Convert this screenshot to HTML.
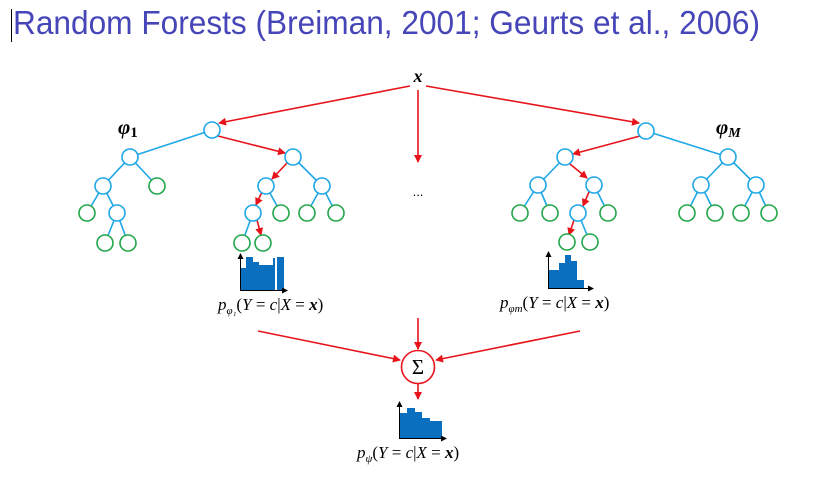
<!DOCTYPE html>
<html><head><meta charset="utf-8"><style>
html,body{margin:0;padding:0;background:#fff;width:823px;height:491px;overflow:hidden}
svg{display:block}
</style></head><body>
<svg width="823" height="491" viewBox="0 0 823 491" xmlns="http://www.w3.org/2000/svg">
<defs>
<marker id="ar" markerWidth="8" markerHeight="8" refX="7" refY="4" orient="auto" markerUnits="userSpaceOnUse">
<path d="M0,0 L8,4 L0,8 z" fill="#e8141b"/></marker>
<marker id="ak" markerWidth="6" markerHeight="6" refX="5" refY="3" orient="auto" markerUnits="userSpaceOnUse">
<path d="M0,0 L6,3 L0,6 z" fill="#000"/></marker>
</defs>
<line x1="11.5" y1="9" x2="11.5" y2="42" stroke="#000" stroke-width="1"/>
<text x="13" y="34" font-family="Liberation Sans, sans-serif" font-size="33" fill="#4646b8" textLength="747" lengthAdjust="spacingAndGlyphs">Random Forests (Breiman, 2001; Geurts et al., 2006)</text>

<text x="418" y="82" text-anchor="middle" font-family="Liberation Serif, serif" font-style="italic" font-weight="bold" font-size="18">x</text>
<g stroke="#e8141b" stroke-width="1.6" fill="none" marker-end="url(#ar)">
<line x1="410" y1="86" x2="219" y2="123"/>
<line x1="426" y1="86" x2="639" y2="123"/>
<line x1="418" y1="90" x2="418" y2="162"/>
</g>
<text x="418" y="196" text-anchor="middle" font-family="Liberation Sans, sans-serif" font-size="13">...</text>

<g stroke="#1ea7e6" stroke-width="1.6">
<line x1="212" y1="130" x2="130" y2="157"/>
<line x1="130" y1="157" x2="103" y2="186"/><line x1="130" y1="157" x2="157" y2="186"/>
<line x1="293" y1="157" x2="322" y2="186"/>
<line x1="103" y1="186" x2="87" y2="213"/><line x1="103" y1="186" x2="117" y2="213"/>
<line x1="117" y1="213" x2="105" y2="243"/><line x1="117" y1="213" x2="128" y2="243"/>
<line x1="266" y1="186" x2="281" y2="213"/>
<line x1="322" y1="186" x2="307" y2="213"/><line x1="322" y1="186" x2="336" y2="213"/>
<line x1="253" y1="213" x2="242" y2="243"/>
<line x1="646" y1="131" x2="728" y2="157"/>
<line x1="565" y1="157" x2="538" y2="185"/>
<line x1="728" y1="157" x2="701" y2="185"/><line x1="728" y1="157" x2="756" y2="185"/>
<line x1="538" y1="185" x2="520" y2="213"/><line x1="538" y1="185" x2="550" y2="213"/>
<line x1="594" y1="185" x2="608" y2="213"/>
<line x1="701" y1="185" x2="687" y2="213"/><line x1="701" y1="185" x2="715" y2="213"/>
<line x1="756" y1="185" x2="741" y2="213"/><line x1="756" y1="185" x2="769" y2="213"/>
<line x1="578" y1="213" x2="590" y2="242"/>
</g>
<g stroke="#e8141b" stroke-width="1.6" marker-end="url(#ar)">
<line x1="218" y1="136" x2="285" y2="153"/>
<line x1="287" y1="163" x2="272" y2="179"/>
<line x1="262" y1="192" x2="256" y2="205"/>
<line x1="257" y1="220" x2="261" y2="235"/>
<line x1="640" y1="136" x2="573" y2="154"/>
<line x1="570" y1="164" x2="587" y2="178"/>
<line x1="589" y1="192" x2="583" y2="206"/>
<line x1="574" y1="220" x2="569" y2="235"/>
</g>

<g fill="#fff" stroke="#1ea7e6" stroke-width="1.6">
<circle cx="212" cy="130" r="8"/><circle cx="130" cy="157" r="8"/><circle cx="293" cy="157" r="8"/>
<circle cx="103" cy="186" r="8"/><circle cx="266" cy="186" r="8"/><circle cx="322" cy="186" r="8"/>
<circle cx="117" cy="213" r="8"/><circle cx="253" cy="213" r="8"/>
<circle cx="646" cy="131" r="8"/><circle cx="565" cy="157" r="8"/><circle cx="728" cy="157" r="8"/>
<circle cx="538" cy="185" r="8"/><circle cx="594" cy="185" r="8"/><circle cx="701" cy="185" r="8"/><circle cx="756" cy="185" r="8"/>
<circle cx="578" cy="213" r="8"/>
</g>
<g fill="#fff" stroke="#22a64a" stroke-width="1.6">
<circle cx="157" cy="186" r="8"/><circle cx="87" cy="213" r="8"/>
<circle cx="105" cy="243" r="8"/><circle cx="128" cy="243" r="8"/>
<circle cx="281" cy="213" r="8"/><circle cx="307" cy="213" r="8"/><circle cx="336" cy="213" r="8"/>
<circle cx="242" cy="243" r="8"/><circle cx="263" cy="243" r="8"/>
<circle cx="520" cy="213" r="8"/><circle cx="550" cy="213" r="8"/><circle cx="608" cy="213" r="8"/>
<circle cx="687" cy="213" r="8"/><circle cx="715" cy="213" r="8"/><circle cx="741" cy="213" r="8"/><circle cx="769" cy="213" r="8"/>
<circle cx="567" cy="242" r="8"/><circle cx="590" cy="242" r="8"/>
</g>

<text x="118" y="134" font-family="Liberation Serif, serif" font-style="italic" font-weight="bold" font-size="21">φ<tspan font-style="normal" font-size="15" dy="3">1</tspan></text>
<text x="716" y="134" font-family="Liberation Serif, serif" font-style="italic" font-weight="bold" font-size="21">φ<tspan font-size="14" dy="3">M</tspan></text>

<g fill="#0b6fbf">
<rect x="241" y="268" width="5" height="22"/><rect x="246" y="257" width="7" height="33"/><rect x="253" y="262" width="6" height="28"/>
<rect x="259" y="265" width="7" height="25"/><rect x="266" y="265" width="7" height="25"/><rect x="273" y="258" width="2" height="32"/><rect x="277" y="257" width="7" height="33"/>
</g>
<g stroke="#000" stroke-width="1" fill="none">
<line x1="240.5" y1="291" x2="240.5" y2="254" marker-end="url(#ak)"/>
<line x1="240" y1="290.5" x2="287" y2="290.5" marker-end="url(#ak)"/>
</g>
<text x="218" y="310" font-family="Liberation Serif, serif" font-style="italic" font-size="17">p<tspan font-size="11" dy="4">φ₁</tspan><tspan dy="-4" font-style="normal">(</tspan>Y<tspan font-style="normal"> = </tspan>c<tspan font-style="normal">|</tspan>X<tspan font-style="normal"> = </tspan><tspan font-weight="bold">x</tspan><tspan font-style="normal">)</tspan></text>

<g fill="#0b6fbf">
<rect x="549" y="270" width="10" height="18"/><rect x="559" y="263" width="6" height="25"/><rect x="565" y="255" width="6" height="33"/>
<rect x="571" y="261" width="6" height="27"/><rect x="577" y="280" width="7" height="8"/>
</g>
<g stroke="#000" stroke-width="1" fill="none">
<line x1="548.5" y1="289" x2="548.5" y2="252" marker-end="url(#ak)"/>
<line x1="548" y1="288.5" x2="593" y2="288.5" marker-end="url(#ak)"/>
</g>
<text x="500" y="308" font-family="Liberation Serif, serif" font-style="italic" font-size="17">p<tspan font-size="11" dy="4">φm</tspan><tspan dy="-4" font-style="normal">(</tspan>Y<tspan font-style="normal"> = </tspan>c<tspan font-style="normal">|</tspan>X<tspan font-style="normal"> = </tspan><tspan font-weight="bold">x</tspan><tspan font-style="normal">)</tspan></text>

<g stroke="#e8141b" stroke-width="1.6" marker-end="url(#ar)">
<line x1="258" y1="331" x2="400" y2="360"/>
<line x1="580" y1="331" x2="436" y2="360"/>
<line x1="418" y1="318" x2="418" y2="349"/>
<line x1="418" y1="384" x2="418" y2="399"/>
</g>
<circle cx="418" cy="367" r="16.5" fill="#fff" stroke="#e8141b" stroke-width="1.6"/>
<text x="418" y="374" text-anchor="middle" font-family="Liberation Serif, serif" font-size="21">Σ</text>

<g fill="#0b6fbf">
<rect x="400" y="413" width="7" height="25"/><rect x="407" y="408" width="8" height="30"/><rect x="415" y="412" width="7" height="26"/>
<rect x="422" y="418" width="8" height="20"/><rect x="430" y="421" width="7" height="17"/><rect x="437" y="421" width="5" height="17"/>
</g>
<g stroke="#000" stroke-width="1" fill="none">
<line x1="399.5" y1="439" x2="399.5" y2="402" marker-end="url(#ak)"/>
<line x1="399" y1="438.5" x2="446" y2="438.5" marker-end="url(#ak)"/>
</g>
<text x="357" y="458" font-family="Liberation Serif, serif" font-style="italic" font-size="17">p<tspan font-size="11" dy="4">ψ</tspan><tspan dy="-4" font-style="normal">(</tspan>Y<tspan font-style="normal"> = </tspan>c<tspan font-style="normal">|</tspan>X<tspan font-style="normal"> = </tspan><tspan font-weight="bold">x</tspan><tspan font-style="normal">)</tspan></text>
</svg>
</body></html>
